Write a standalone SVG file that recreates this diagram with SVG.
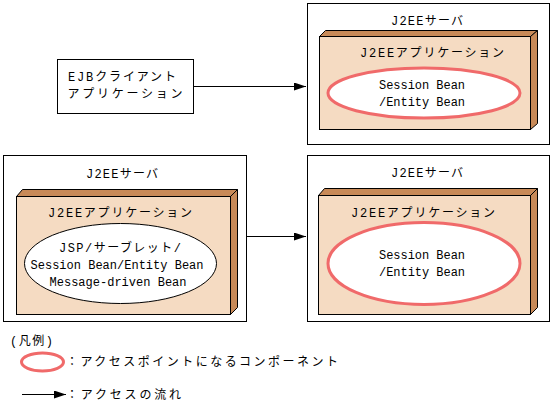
<svg xmlns="http://www.w3.org/2000/svg" width="552" height="410" viewBox="0 0 552 410">
<defs>
<style>
text{font-family:"Liberation Mono","Noto Sans CJK JP",monospace;font-size:12px;fill:#000}
.srv{fill:#fff;stroke:#000;stroke-width:1}
.front{fill:#F5DBC2;stroke:#000;stroke-width:1}
.dark{fill:#C88A58;stroke:#000;stroke-width:1}
.ap{fill:#fff;stroke:#F06A6A;stroke-width:3}
.comp{fill:#fff;stroke:#000;stroke-width:1}
.ln{stroke:#000;stroke-width:1;fill:none}
</style>
<marker id="ah" markerWidth="12" markerHeight="8" refX="12" refY="4" orient="auto" markerUnits="userSpaceOnUse">
<path d="M0,0 L12,4 L0,8 Z" fill="#000"/>
</marker>
</defs>

<g id="client">
<rect x="57.5" y="59.5" width="136" height="54" class="srv"/>
<text x="122" y="81" text-anchor="middle" textLength="108" lengthAdjust="spacing">EJBクライアント</text>
<text x="125" y="98" text-anchor="middle" textLength="115" lengthAdjust="spacing">アプリケーション</text>
</g>

<g id="server1">
<rect x="307.5" y="3.5" width="242" height="141" class="srv"/>
<text x="427" y="25" text-anchor="middle" textLength="72" lengthAdjust="spacing">J2EEサーバ</text>
<polygon points="319.5,36.5 325.5,30.5 537.5,30.5 530.5,36.5" class="dark"/>
<polygon points="530.5,36.5 537.5,30.5 537.5,123.5 530.5,129.5" class="dark"/>
<rect x="319.5" y="36.5" width="211" height="93" class="front"/>
<text x="432" y="57" text-anchor="middle" textLength="144" lengthAdjust="spacing">J2EEアプリケーション</text>
<ellipse cx="424" cy="93" rx="96" ry="25" class="ap"/>
<text x="422" y="89" text-anchor="middle" textLength="86" lengthAdjust="spacing">Session Bean</text>
<text x="422" y="106" text-anchor="middle" textLength="86" lengthAdjust="spacing">/Entity Bean</text>
</g>

<g id="server2">
<rect x="3.5" y="155.5" width="243" height="166" class="srv"/>
<text x="122" y="178" text-anchor="middle" textLength="72" lengthAdjust="spacing">J2EEサーバ</text>
<polygon points="16.5,196.5 22.5,189.5 237.5,189.5 230.5,196.5" class="dark"/>
<polygon points="230.5,196.5 237.5,189.5 237.5,307.5 230.5,314.5" class="dark"/>
<rect x="16.5" y="196.5" width="214" height="118" class="front"/>
<text x="120" y="217" text-anchor="middle" textLength="144" lengthAdjust="spacing">J2EEアプリケーション</text>
<ellipse cx="120.5" cy="263.5" rx="96" ry="40" class="comp"/>
<text x="120" y="252" text-anchor="middle" textLength="122" lengthAdjust="spacing">JSP/サーブレット/</text>
<text x="117" y="269" text-anchor="middle" textLength="173" lengthAdjust="spacing">Session Bean/Entity Bean</text>
<text x="118" y="286" text-anchor="middle" textLength="137" lengthAdjust="spacing">Message-driven Bean</text>
</g>

<g id="server3">
<rect x="307.5" y="155.5" width="242" height="166" class="srv"/>
<text x="427" y="177" text-anchor="middle" textLength="72" lengthAdjust="spacing">J2EEサーバ</text>
<polygon points="318.5,195.5 324.5,188.5 537.5,188.5 530.5,195.5" class="dark"/>
<polygon points="530.5,195.5 537.5,188.5 537.5,307.5 530.5,314.5" class="dark"/>
<rect x="318.5" y="195.5" width="212" height="119" class="front"/>
<text x="423" y="217" text-anchor="middle" textLength="144" lengthAdjust="spacing">J2EEアプリケーション</text>
<ellipse cx="424" cy="263.5" rx="96" ry="41" class="ap"/>
<text x="422" y="259" text-anchor="middle" textLength="86" lengthAdjust="spacing">Session Bean</text>
<text x="422" y="276" text-anchor="middle" textLength="86" lengthAdjust="spacing">/Entity Bean</text>
</g>

<g id="connectors">
<line x1="193.5" y1="86.5" x2="306" y2="86.5" class="ln" marker-end="url(#ah)"/>
<line x1="246.5" y1="236.5" x2="306" y2="236.5" class="ln" marker-end="url(#ah)"/>
</g>

<g id="legend">
<text x="10" y="345" textLength="43" lengthAdjust="spacing">(凡例)</text>
<ellipse cx="42.5" cy="362" rx="21" ry="9" class="ap"/>
<text x="66" y="366" textLength="272" lengthAdjust="spacing">：アクセスポイントになるコンポーネント</text>
<line x1="22" y1="394.5" x2="66" y2="394.5" class="ln" marker-end="url(#ah)"/>
<text x="66" y="399" textLength="115" lengthAdjust="spacing">：アクセスの流れ</text>
</g>
</svg>
